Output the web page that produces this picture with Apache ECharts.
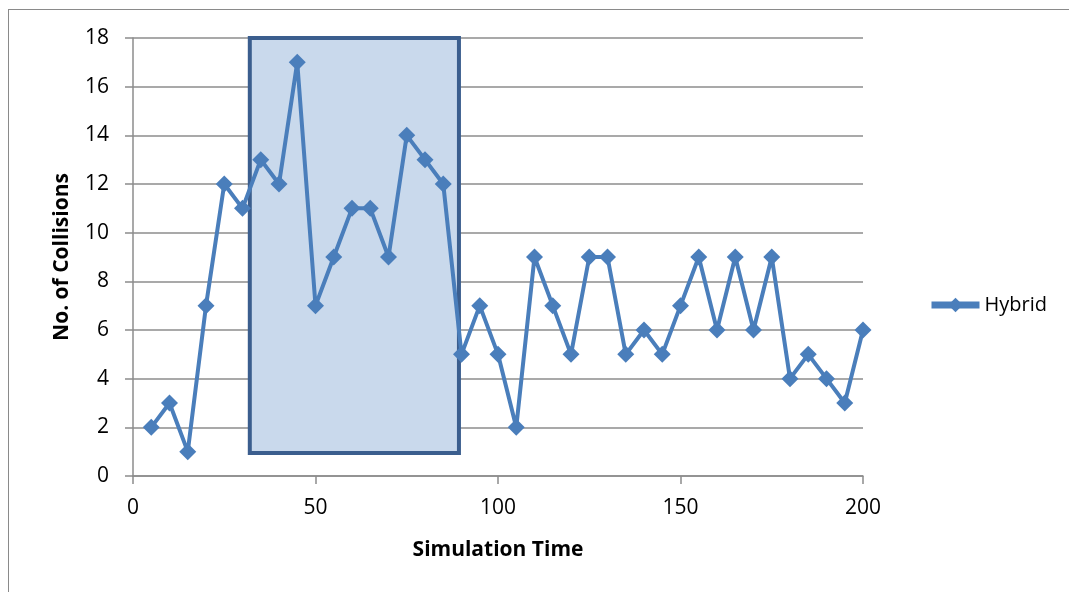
<!DOCTYPE html>
<html>
<head>
<meta charset="utf-8">
<script src="https://cdn.jsdelivr.net/npm/echarts@6/dist/echarts.min.js"></script>
<style>
  html, body { margin: 0; padding: 0; background: #fff; }
  #frame { position: absolute; left: 8px; top: 9px; width: 1070px; height: 600px;
           border-left: 1.5px solid #8a8a8a; border-top: 1.5px solid #8a8a8a; }
  #chart { position: absolute; left: 0; top: 0; width: 1069px; height: 592px; }
</style>
</head>
<body>
<div id="frame"></div>
<div id="chart"></div>
<script>
// Simulation time steps and collision counts
const simTime = [5, 10, 15, 20, 25, 30, 35, 40, 45, 50, 55, 60, 65, 70, 75, 80, 85, 90, 95, 100,
                 105, 110, 115, 120, 125, 130, 135, 140, 145, 150, 155, 160, 165, 170, 175, 180, 185, 190, 195, 200];
const hybrid = [2, 3, 1, 7, 12, 11, 13, 12, 17, 7, 9, 11, 11, 9, 14, 13, 12, 5, 7, 5,
                2, 9, 7, 5, 9, 9, 5, 6, 5, 7, 9, 6, 9, 6, 9, 4, 5, 4, 3, 6];
// Highlighted window (time range, collision range)
const windowTime = [32, 89.3];
const windowCollisions = [0.95, 18];

const seriesData = simTime.map((t, i) => [t, hybrid[i]]);
const font = '"Open Sans", "Liberation Sans", sans-serif';
const gray = '#8c8c8c';
const blue = '#4a7ebb';

const chart = echarts.init(document.getElementById('chart'), null, { renderer: 'canvas' });
chart.setOption({
  animation: false,
  grid: { left: 133, right: 206, top: 38, bottom: 116 },
  legend: {
    data: ['Hybrid'],
    orient: 'vertical',
    left: 923, top: 290,
    itemWidth: 48, itemHeight: 18, itemGap: 6,
    lineStyle: { width: 7 },
    textStyle: { fontFamily: font, fontSize: 20, color: '#000' }
  },
  xAxis: {
    type: 'value', min: 0, max: 200, interval: 50,
    name: 'Simulation Time', nameLocation: 'middle', nameGap: 64,
    nameTextStyle: { fontFamily: font, fontSize: 21, fontWeight: 'bold', color: '#000' },
    axisLine: { lineStyle: { color: gray, width: 1.5 } },
    axisTick: { show: true, length: 8, lineStyle: { color: gray, width: 1.5 } },
    axisLabel: { fontFamily: font, fontSize: 21, color: '#000', margin: 22 },
    splitLine: { show: false }
  },
  yAxis: {
    type: 'value', min: 0, max: 18, interval: 2,
    name: 'No. of Collisions', nameLocation: 'middle', nameGap: 60, nameRotate: 90,
    nameTextStyle: { fontFamily: font, fontSize: 21, fontWeight: 'bold', color: '#000' },
    axisLine: { show: true, lineStyle: { color: gray, width: 1.5 } },
    axisTick: { show: true, length: 8, lineStyle: { color: gray, width: 1.5 } },
    axisLabel: { fontFamily: font, fontSize: 21, color: '#000', margin: 24 },
    splitLine: { lineStyle: { color: gray, width: 1.5 } }
  },
  series: [{
    name: 'Hybrid',
    type: 'line',
    data: seriesData,
    symbol: 'diamond',
    symbolSize: 17,
    itemStyle: { color: blue },
    lineStyle: { color: blue, width: 4 },
    z: 3,
    markArea: {
      silent: true,
      itemStyle: { color: '#c9d9ec', borderColor: '#3b5e8e', borderWidth: 4 },
      data: [[
        { coord: [windowTime[0], windowCollisions[1]] },
        { coord: [windowTime[1], windowCollisions[0]] }
      ]]
    }
  }]
});
</script>
</body>
</html>
